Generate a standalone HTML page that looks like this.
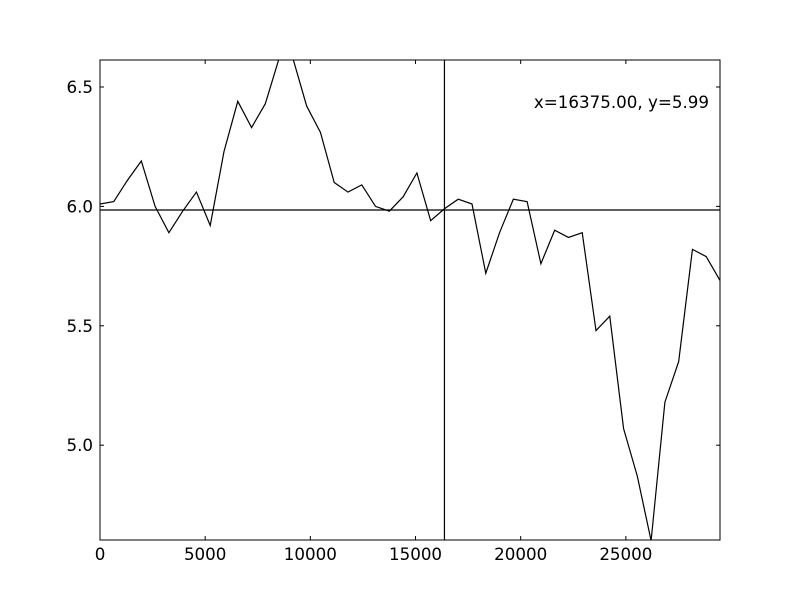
<!DOCTYPE html>
<html><head><meta charset="utf-8"><style>
html,body{margin:0;padding:0;background:#fff;}
svg text{font-family:"DejaVu Sans","Liberation Sans",sans-serif;font-size:16.7px;fill:#000;}
</style></head><body>
<svg id="chart" width="800" height="600" xmlns="http://www.w3.org/2000/svg">
<rect x="0" y="0" width="800" height="600" fill="#fff"/>
<g id="plot"></g>
</svg>
<script>
const xTicks = [0, 5000, 10000, 15000, 20000, 25000];
const yTicks = [5.0, 5.5, 6.0, 6.5];
const yValues = [6.01,6.02,6.11,6.19,6.00,5.89,5.98,6.06,5.92,6.23,6.44,6.33,6.43,6.62,6.62,6.42,6.31,6.10,6.06,6.09,6.00,5.98,6.04,6.14,5.94,5.99,6.03,6.01,5.72,5.89,6.03,6.02,5.76,5.90,5.87,5.89,5.48,5.54,5.07,4.87,4.60,5.18,5.35,5.82,5.79,5.69];
const xStep = [655];
const cursor = [16375, 5.985];

const L=100,R=720,T=60,B=540;
const xMin=0,xMax=29475,yMin=4.603,yMax=6.613;
const sx=v=>L+(v-xMin)/(xMax-xMin)*(R-L);
const sy=v=>B-(v-yMin)/(yMax-yMin)*(B-T);
const NS="http://www.w3.org/2000/svg";
const g=document.getElementById('plot');
function mk(tag,attrs){const e=document.createElementNS(NS,tag);for(const k in attrs)e.setAttribute(k,attrs[k]);g.appendChild(e);return e;}

const pts=yValues.map((v,i)=>sx(i*xStep[0]).toFixed(2)+','+sy(v).toFixed(2)).join(' ');
const cp=mk('clipPath',{id:'clip'});
const cr=document.createElementNS(NS,'rect');cr.setAttribute('x',L);cr.setAttribute('y',T);cr.setAttribute('width',R-L);cr.setAttribute('height',B-T);cp.appendChild(cr);
const line=mk('polyline',{points:pts,fill:'none',stroke:'#000','stroke-width':1.2,'clip-path':'url(#clip)'});



const vl=mk('line',{x1:sx(cursor[0]),x2:sx(cursor[0]),y1:T,y2:B,stroke:'#000','stroke-width':1.2});


const hl=mk('line',{x1:L,x2:R,y1:sy(cursor[1]),y2:sy(cursor[1]),stroke:'#000','stroke-width':1.2});



const frame=mk('rect',{x:L,y:T,width:R-L,height:B-T,fill:'none',stroke:'#000','stroke-width':1});



xTicks.forEach(t=>{
  const x=sx(t);
  const a=mk('line',{x1:x,x2:x,y1:B,y2:B-4,stroke:'#000'});
  
  
  const b=mk('line',{x1:x,x2:x,y1:T,y2:T+4,stroke:'#000'});
  
  
  const tx=mk('text',{x:x,y:B+20,'text-anchor':'middle'});
  tx.textContent=String(t);
  
  
});
yTicks.forEach(t=>{
  const y=sy(t);
  const a=mk('line',{x1:L,x2:L+4,y1:y,y2:y,stroke:'#000'});
  
  
  const b=mk('line',{x1:R,x2:R-4,y1:y,y2:y,stroke:'#000'});
  
  
  const tx=mk('text',{x:L-7,y:y+6,'text-anchor':'end'});
  tx.textContent=t.toFixed(1);
  
  
});
const lab=mk('text',{x:709,y:108,'text-anchor':'end'});
lab.textContent='x='+cursor[0].toFixed(2)+', y='+(5.99).toFixed(2);


</script>
</body></html>
